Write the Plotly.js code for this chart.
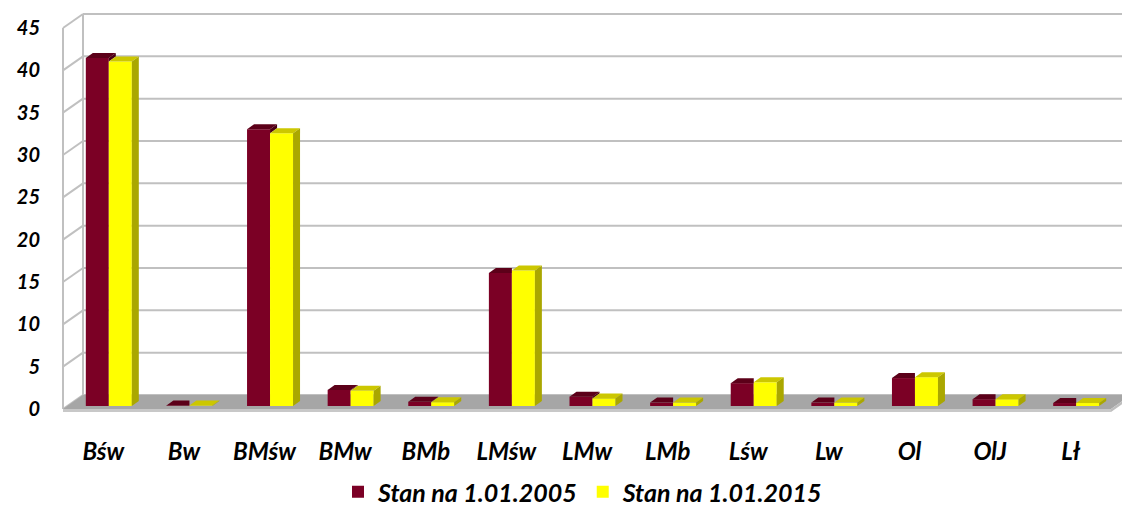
<!DOCTYPE html>
<html>
<head>
<meta charset="utf-8">
<script src="https://cdn.plot.ly/plotly-3.0.1.min.js"></script>
<style>html,body{margin:0;padding:0;background:#fff;}#chart{width:1122px;height:515px;}</style>
</head>
<body>
<div id="chart"></div>
<script>
// ---- data ----
const categories = ["Bśw","Bw","BMśw","BMw","BMb","LMśw","LMw","LMb","Lśw","Lw","Ol","OlJ","Lł"];
const series2005 = [41.1, 0.05, 32.7, 1.9, 0.5, 15.7, 1.1, 0.4, 2.7, 0.4, 3.3, 0.8, 0.35];
const series2015 = [40.7, 0.05, 32.2, 1.8, 0.45, 16.0, 0.9, 0.4, 2.8, 0.4, 3.4, 0.8, 0.35];
const seriesNames = ["Stan na 1.01.2005", "Stan na 1.01.2015"];
const yTicks = [0,5,10,15,20,25,30,35,40,45];

// ---- geometry (pixels of the layout) ----
const W = 1122, H = 515;
const L = 63, R = 11, T = 28, B = 106;
const plotW = W - L - R, plotH = H - T - B;
const YMAX = 45;
const PXU = plotH / YMAX;                 // px per unit
const CAT = plotW / categories.length;   // px per category
const WALL_DX = 20, WALL_DY = 14;         // depth of the 3-D box in px
const SX = 5.5 / CAT, BW = 23 / CAT;      // bar front shift, bar width
const DDX = 7 / CAT, DDY = 5 / PXU;       // bar depth
const BASE = 3 / PXU;                     // bar front plane lift

const col = {
  m: {front:"#7B0025", top:"#5C0019", side:"#4A0014"},
  y: {front:"#FFFF00", top:"#CCC700", side:"#AAA700"}
};

const fam = "Lato, 'Open Sans', sans-serif";
const yFont = {family:fam, size:20, color:"#000", weight:700, style:"italic"};
const xFont = {family:fam, size:24, color:"#000", weight:700, style:"italic"};
const legFont = {family:fam, size:25, color:"#000", weight:700, style:"italic"};
const idx = categories.map((c,i)=>i);

const traces = [];
// front faces as bars
traces.push({type:"bar", name:seriesNames[0], x:idx, y:series2005, base:BASE, width:BW, offset:SX-BW,
  marker:{color:col.m.front, line:{width:0}}, hoverinfo:"name+y"});
traces.push({type:"bar", name:seriesNames[1], x:idx, y:series2015, base:BASE, width:BW, offset:SX,
  marker:{color:col.y.front, line:{width:0}}, hoverinfo:"name+y"});

function poly(pts, color){
  const xs=[], ys=[];
  pts.forEach(p=>{xs.push(p[0]); ys.push(p[1]);});
  xs.push(pts[0][0]); ys.push(pts[0][1]);
  return {type:"scatter", mode:"lines", x:xs, y:ys, fill:"toself", fillcolor:color,
    line:{width:0, color:color}, showlegend:false, hoverinfo:"skip"};
}

idx.forEach(i=>{
  const hm = BASE + series2005[i], hy = BASE + series2015[i];
  const x0 = i + SX - BW, x1 = i + SX, x2 = i + SX + BW;
  if (hm > hy) {
    traces.push(poly([[x0,hm],[x1,hm],[x1+DDX,hm+DDY],[x0+DDX,hm+DDY]], col.m.top));
    traces.push(poly([[x1,hy],[x1,hm],[x1+DDX,hm+DDY],[x1+DDX,hy+DDY]], col.m.side));
  } else {
    traces.push(poly([[x0,hm],[x1,hm],[x1,hm+DDY],[x0+DDX,hm+DDY]], col.m.top));
  }
  traces.push(poly([[x1,hy],[x2,hy],[x2+DDX,hy+DDY],[x1+DDX,hy+DDY]], col.y.top));
  traces.push(poly([[x2,BASE],[x2,hy],[x2+DDX,hy+DDY],[x2+DDX,BASE+DDY]], col.y.side));
});

// ---- 3-D box decoration (walls, floor) in paper coords ----
const px2x = px => (px - L) / plotW;
const py2y = py => (T + plotH - py) / plotH;
const shapes = [];
const grid = "#C0C0C0";
yTicks.forEach(v=>{
  const fy = T + plotH - v*PXU, by = fy - WALL_DY;
  shapes.push({type:"line", xref:"paper", yref:"paper", layer:"below",
    x0:px2x(L+WALL_DX), x1:px2x(W+5), y0:py2y(by), y1:py2y(by), line:{color:grid, width:2}});
  shapes.push({type:"line", xref:"paper", yref:"paper", layer:"below",
    x0:px2x(L), x1:px2x(L+WALL_DX), y0:py2y(fy), y1:py2y(by), line:{color:grid, width:2}});
});
shapes.push({type:"line", xref:"paper", yref:"paper", layer:"below",
  x0:0, x1:0, y0:0, y1:1, line:{color:grid, width:2}});
shapes.push({type:"line", xref:"paper", yref:"paper", layer:"below",
  x0:px2x(L+WALL_DX), x1:px2x(L+WALL_DX), y0:py2y(T+plotH-WALL_DY), y1:py2y(T-WALL_DY), line:{color:grid, width:2}});
const fb = T + plotH;
const fr = L + plotW;
function pathPx(pts){ return "M" + pts.map(p=>px2x(p[0]).toFixed(5)+","+py2y(p[1]).toFixed(5)).join("L") + "Z"; }
shapes.push({type:"path", xref:"paper", yref:"paper", layer:"below", line:{width:0},
  fillcolor:"#A6A6A6", path:pathPx([[L,fb],[fr,fb],[fr+WALL_DX,fb-WALL_DY],[L+WALL_DX,fb-WALL_DY]])});
shapes.push({type:"path", xref:"paper", yref:"paper", layer:"below", line:{width:0},
  fillcolor:"#C8C8C8", path:pathPx([[L,fb],[fr,fb],[fr,fb+3],[L,fb+3]])});
shapes.push({type:"path", xref:"paper", yref:"paper", layer:"below", line:{width:0},
  fillcolor:"#BEBEBE", path:pathPx([[fr,fb],[fr+WALL_DX,fb-WALL_DY],[fr+WALL_DX,fb-WALL_DY+3],[fr,fb+3]])});

const layout = {
  width:W, height:H,
  margin:{l:L, r:R, t:T, b:B, pad:0, autoexpand:false},
  paper_bgcolor:"#fff", plot_bgcolor:"rgba(0,0,0,0)",
  barmode:"overlay",
  showlegend:true,
  legend:{orientation:"h", xref:"container", x:583/W, xanchor:"center",
    yref:"container", y:-0.02, yanchor:"bottom", bgcolor:"rgba(0,0,0,0)",
    font:legFont, traceorder:"normal", itemwidth:30},
  xaxis:{type:"linear", range:[-0.5, categories.length-0.5], tickvals:idx, ticktext:categories,
    showgrid:false, zeroline:false, showline:false, ticks:"", tickfont:xFont, ticklabelstandoff:26, fixedrange:true},
  yaxis:{range:[0,YMAX], tickvals:yTicks, showgrid:false, zeroline:false, showline:false, ticks:"",
    tickfont:yFont, ticklabelstandoff:22, fixedrange:true},
  shapes:shapes
};

Plotly.newPlot("chart", traces, layout, {displayModeBar:false, staticPlot:true});
</script>
</body>
</html>
